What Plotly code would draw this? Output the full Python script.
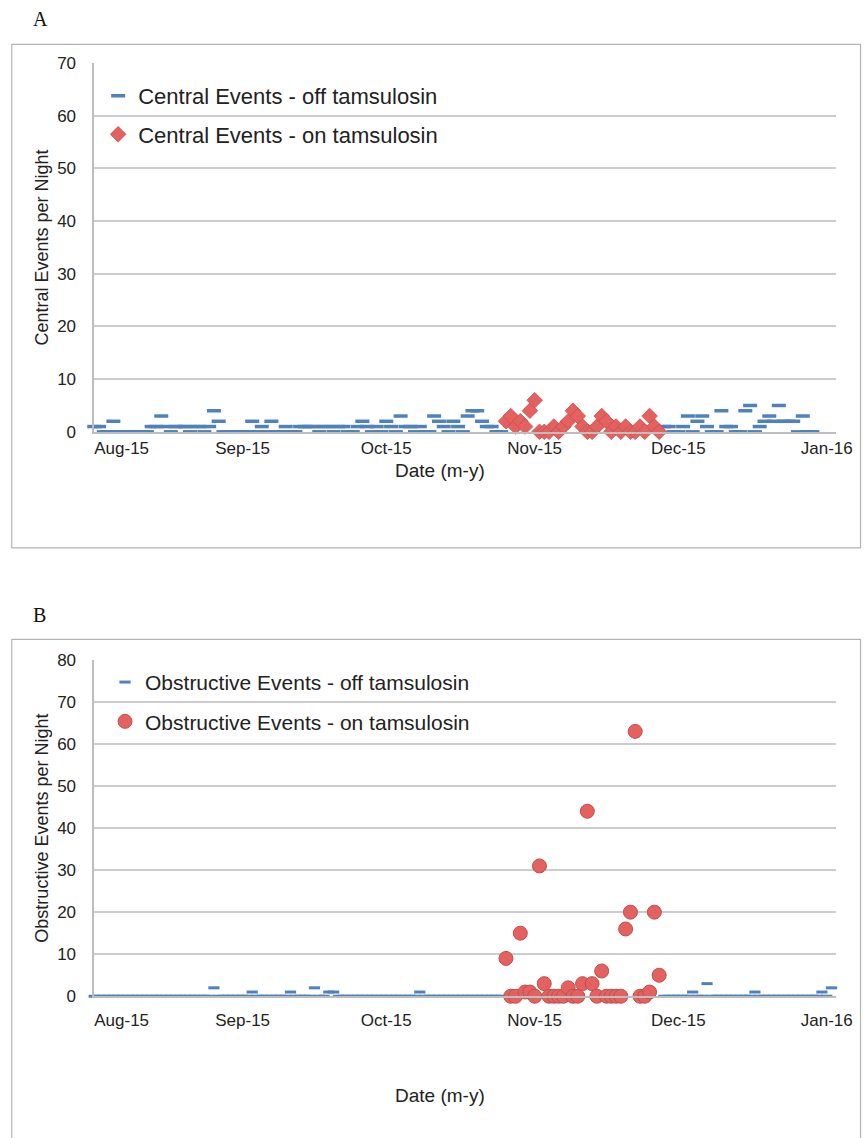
import plotly.graph_objects as go
import pandas as pd

W, H = 868, 1138

# ---------------- data ----------------
month_ticks = ["2015-09-01", "2015-10-01", "2015-11-01", "2015-12-01", "2016-01-01"]
month_labels = ["Sep-15", "Oct-15", "Nov-15", "Dec-15", "Jan-16"]
first_tick = ["2015-08-01"]
first_label = ["Aug-15"]

# nights off tamsulosin (Aug 1 - Oct 25)
dates_off_early = pd.date_range("2015-08-01", "2015-10-25")
# nights on tamsulosin (Oct 26 - Nov 27)
dates_on = pd.date_range("2015-10-26", "2015-11-27")
# nights off tamsulosin after treatment
dates_off_late_a = pd.date_range("2015-11-28", "2015-12-29")
dates_off_late_b = pd.date_range("2015-11-28", "2016-01-02")

central_off_early = [
    1, 1, 0, 0, 2, 0, 0, 0, 0, 0,
    0, 0, 1, 1, 3, 1, 0, 1, 1, 1,
    0, 1, 1, 0, 1, 4, 2, 0, 0, 0,
    0, 0, 0, 2, 0, 1, 0, 2, 0, 0,
    1, 0, 0, 1, 1, 1, 1, 0, 1, 1,
    0, 1, 1, 0, 0, 1, 2, 1, 0, 1,
    0, 2, 1, 0, 3, 1, 1, 0, 1, 0,
    0, 3, 2, 1, 0, 2, 1, 0, 3, 4,
    4, 2, 1, 1, 0, 0,
]
central_on = [
    2, 3, 1, 2, 1, 4, 6, 0, 0, 0,
    1, 0, 1, 2, 4, 3, 1, 0, 0, 1,
    3, 2, 0, 1, 0, 1, 0, 0, 1, 0,
    3, 1, 0,
]
central_off_late = [
    1, 1, 0, 0, 1, 3, 0, 2, 3, 1,
    0, 0, 4, 1, 1, 0, 0, 4, 5, 0,
    1, 2, 3, 2, 5, 2, 2, 2, 0, 3,
    0, 0,
]

obstructive_off_early = [
    0, 0, 0, 0, 0, 0, 0, 0, 0, 0,
    0, 0, 0, 0, 0, 0, 0, 0, 0, 0,
    0, 0, 0, 0, 0, 2, 0, 0, 0, 0,
    0, 0, 0, 1, 0, 0, 0, 0, 0, 0,
    0, 1, 0, 0, 0, 0, 2, 0, 0, 1,
    1, 0, 0, 0, 0, 0, 0, 0, 0, 0,
    0, 0, 0, 0, 0, 0, 0, 0, 1, 0,
    0, 0, 0, 0, 0, 0, 0, 0, 0, 0,
    0, 0, 0, 0, 0, 0,
]
obstructive_on = [
    9, 0, 0, 15, 1, 1, 0, 31, 3, 0,
    0, 0, 0, 2, 0, 0, 3, 44, 3, 0,
    6, 0, 0, 0, 0, 16, 20, 63, 0, 0,
    1, 20, 5,
]
obstructive_off_late = [
    0, 0, 0, 0, 0, 0, 1, 0, 0, 3,
    0, 0, 0, 0, 0, 0, 0, 0, 0, 1,
    0, 0, 0, 0, 0, 0, 0, 0, 0, 0,
    0, 0, 0, 1, 0, 2,
]

# ---------------- styling ----------------
BLUE = "#4f81bd"
RED_FILL = "#e5615f"
RED_EDGE = "#c0504d"
GRID = "#cccccc"
AXIS = "#bdbdbd"
FONT = "Liberation Sans, Arial, sans-serif"
TXT = "#222222"

def py(y):
    return 1 - y / H

fig = go.Figure()

# Panel A
fig.add_trace(go.Scatter(
    x=list(dates_off_early) + list(dates_off_late_a),
    y=central_off_early + central_off_late,
    mode="markers", name="Central Events - off tamsulosin",
    marker=dict(symbol="line-ew", size=10, line=dict(width=3.5, color=BLUE)),
    xaxis="x", yaxis="y", legend="legend", legendgroup="a1", cliponaxis=False,
))
fig.add_trace(go.Scatter(
    x=list(dates_on), y=central_on,
    mode="markers", name="Central Events - on tamsulosin",
    marker=dict(symbol="diamond", size=12, color=RED_FILL, line=dict(width=0.8, color=RED_EDGE)),
    xaxis="x", yaxis="y", legend="legend", legendgroup="a2", cliponaxis=False,
))

# Panel B
fig.add_trace(go.Scatter(
    x=list(dates_off_early) + list(dates_off_late_b),
    y=obstructive_off_early + obstructive_off_late,
    mode="markers", name="Obstructive Events - off tamsulosin",
    marker=dict(symbol="line-ew", size=8, line=dict(width=3, color=BLUE)),
    xaxis="x2", yaxis="y2", legend="legend2", legendgroup="b1", cliponaxis=False,
))
fig.add_trace(go.Scatter(
    x=list(dates_on), y=obstructive_on,
    mode="markers", name="Obstructive Events - on tamsulosin",
    marker=dict(symbol="circle", size=14, color=RED_FILL, line=dict(width=1, color=RED_EDGE)),
    xaxis="x2", yaxis="y2", legend="legend2", legendgroup="b2", cliponaxis=False,
))

# empty helper traces so the overlay axes (first month label) are drawn
fig.add_trace(go.Scatter(x=[], y=[], xaxis="x3", yaxis="y", showlegend=False, hoverinfo="skip"))
fig.add_trace(go.Scatter(x=[], y=[], xaxis="x4", yaxis="y2", showlegend=False, hoverinfo="skip"))

x_dom = [96 / W, 852 / W]
xrange = ["2015-08-01", "2016-01-03"]

def xaxis_common(anchor, lab_standoff):
    return dict(
        domain=x_dom, anchor=anchor, type="date", range=xrange,
        tickvals=month_ticks, ticktext=month_labels,
        showgrid=False, showline=True, linecolor=AXIS, linewidth=1.5,
        ticks="", ticklabelstandoff=lab_standoff, ticklabeloverflow="allow",
        tickfont=dict(family=FONT, size=17, color=TXT),
        zeroline=False,
    )

def xaxis_first(anchor, overlay, lab_standoff):
    return dict(
        domain=x_dom, anchor=anchor, overlaying=overlay, type="date", range=xrange,
        tickvals=first_tick, ticktext=first_label, side="bottom",
        ticklabelposition="outside right", ticklabeloverflow="allow",
        showgrid=False, showline=False, zeroline=False, ticks="",
        ticklabelstandoff=lab_standoff,
        tickfont=dict(family=FONT, size=17, color=TXT),
    )

def yaxis_common(anchor, dom, rmax, title):
    return dict(
        domain=dom, anchor=anchor, range=[0, rmax], dtick=10,
        showgrid=True, gridcolor=GRID, gridwidth=1.5,
        showline=True, linecolor=AXIS, linewidth=1.5, zeroline=False,
        ticks="", ticklabelstandoff=13,
        tickfont=dict(family=FONT, size=17, color=TXT),
        title=dict(text=title, font=dict(family=FONT, size=18, color=TXT), standoff=4),
    )

title_font = dict(family=FONT, size=19, color=TXT)
panel_font = dict(family="Liberation Serif, Times New Roman, serif", size=20, color="#111")

fig.update_layout(
    width=W, height=H,
    margin=dict(l=0, r=0, t=0, b=0),
    paper_bgcolor="white", plot_bgcolor="white",
    xaxis=xaxis_common("y", 0),
    xaxis3=xaxis_first("y", "x", 4),
    yaxis=yaxis_common("x", [py(430), py(55)], 70, "Central Events per Night"),
    xaxis2=xaxis_common("y2", 8),
    xaxis4=xaxis_first("y2", "x2", 12),
    yaxis2=yaxis_common("x2", [py(1004), py(662)], 80, "Obstructive Events per Night"),
    legend=dict(
        x=100 / W, y=py(67), xanchor="left", yanchor="top",
        bgcolor="rgba(0,0,0,0)", font=dict(family=FONT, size=22, color=TXT),
        tracegroupgap=7, itemwidth=30,
    ),
    legend2=dict(
        x=107 / W, y=py(664), xanchor="left", yanchor="top",
        bgcolor="rgba(0,0,0,0)", font=dict(family=FONT, size=21, color=TXT),
        tracegroupgap=9, itemwidth=30,
    ),
    shapes=[
        dict(type="rect", xref="paper", yref="paper",
             x0=12 / W, x1=1.01, y0=py(548), y1=py(36),
             line=dict(color="#b3b3b3", width=1.2)),
        dict(type="rect", xref="paper", yref="paper",
             x0=12 / W, x1=1.01, y0=-0.01, y1=py(641),
             line=dict(color="#b3b3b3", width=1.2)),
    ],
    annotations=[
        dict(text="A", x=32 / W, y=py(10), xref="paper", yref="paper",
             xanchor="left", yanchor="middle", showarrow=False, font=panel_font),
        dict(text="B", x=32 / W, y=py(616), xref="paper", yref="paper",
             xanchor="left", yanchor="middle", showarrow=False, font=panel_font),
        dict(text="Date (m-y)", x=448 / W, y=py(469), xref="paper", yref="paper",
             xanchor="center", yanchor="middle", showarrow=False, font=title_font),
        dict(text="Date (m-y)", x=448 / W, y=py(1105), xref="paper", yref="paper",
             xanchor="center", yanchor="middle", showarrow=False, font=title_font),
    ],
)

fig.write_html("out.html", config={"displayModeBar": False},
               post_script="document.body.style.margin='0';")
